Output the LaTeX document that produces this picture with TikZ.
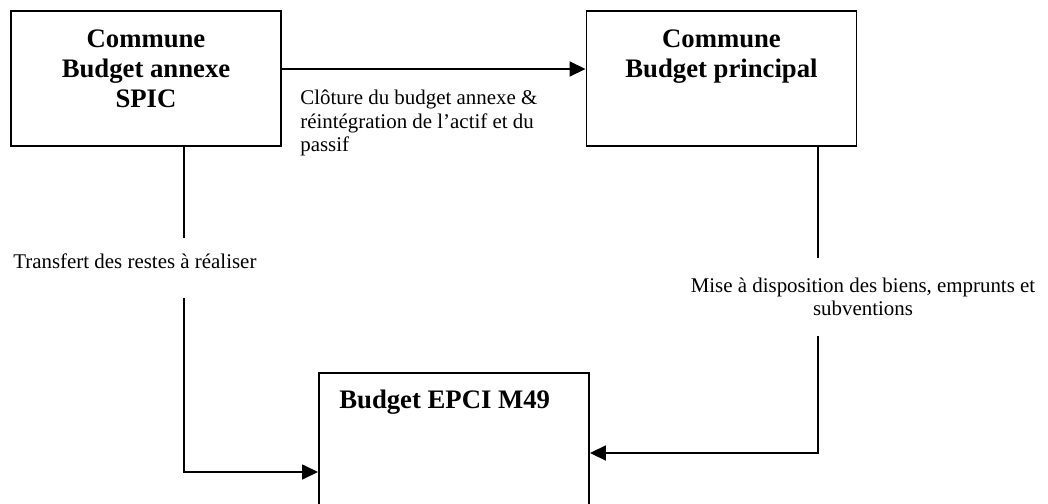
\documentclass[tikz,border=0pt]{standalone}
\usepackage{fontspec}
\setmainfont{Liberation Serif}
\usetikzlibrary{arrows.meta, positioning, calc}

\begin{document}
\begin{tikzpicture}[
        box/.style={draw, line width=1.1pt, minimum width=5.4cm, minimum height=2.7cm, inner sep=0pt},
        title/.style={inner sep=0pt, align=center, font=\fontsize{15.2}{17.1}\selectfont\bfseries},
        lbl/.style={inner sep=0pt, font=\fontsize{11.9}{13.4}\selectfont},
        flow/.style={line width=1pt, -{Triangle[length=0.32cm, width=0.3cm]}}
    ]
    \clip (0,0) rectangle (20.96,-10.08);

    \node[box] (annexe) at (2.92,-1.57) {};
    \node[title, anchor=north] (tannexe) at ([yshift=-0.38cm]annexe.north) {Commune\\Budget annexe\\SPIC};

    \node[box] (principal) at (14.43,-1.57) {};
    \node[title, anchor=north] (tprincipal) at ([yshift=-0.38cm]principal.north) {Commune\\Budget principal};

    \node[box, minimum height=3.2cm, anchor=north west] (epci) at (6.36,-7.44) {};
    \node[title, anchor=north west] (tepci) at ([xshift=0.42cm,yshift=-0.36cm]epci.north west) {Budget EPCI M49};

    \coordinate (tl) at (3.68,-9.44);
    \coordinate (tr) at (16.36,-9.06);

    \draw[flow] ([yshift=0.19cm]annexe.east) -- ([yshift=0.19cm]principal.west);
    \draw[flow] (annexe.south -| tl) |- (epci.west |- tl);
    \draw[flow] (principal.south -| tr) |- (epci.east |- tr);

    \node[lbl, anchor=north west, align=left] (cloture) at (6.0,-1.8) {Clôture du budget annexe \&\\réintégration de l'actif et du\\passif};
    \node[lbl, fill=white, anchor=base west, text height=0.594cm, text depth=0.606cm] (transfert) at (0.26,-5.36) {Transfert des restes à réaliser};
    \node[lbl, fill=white, align=center, minimum height=1.56cm] (mise) at (17.26,-5.94) {Mise à disposition des biens, emprunts et\\subventions};
\end{tikzpicture}
\end{document}
